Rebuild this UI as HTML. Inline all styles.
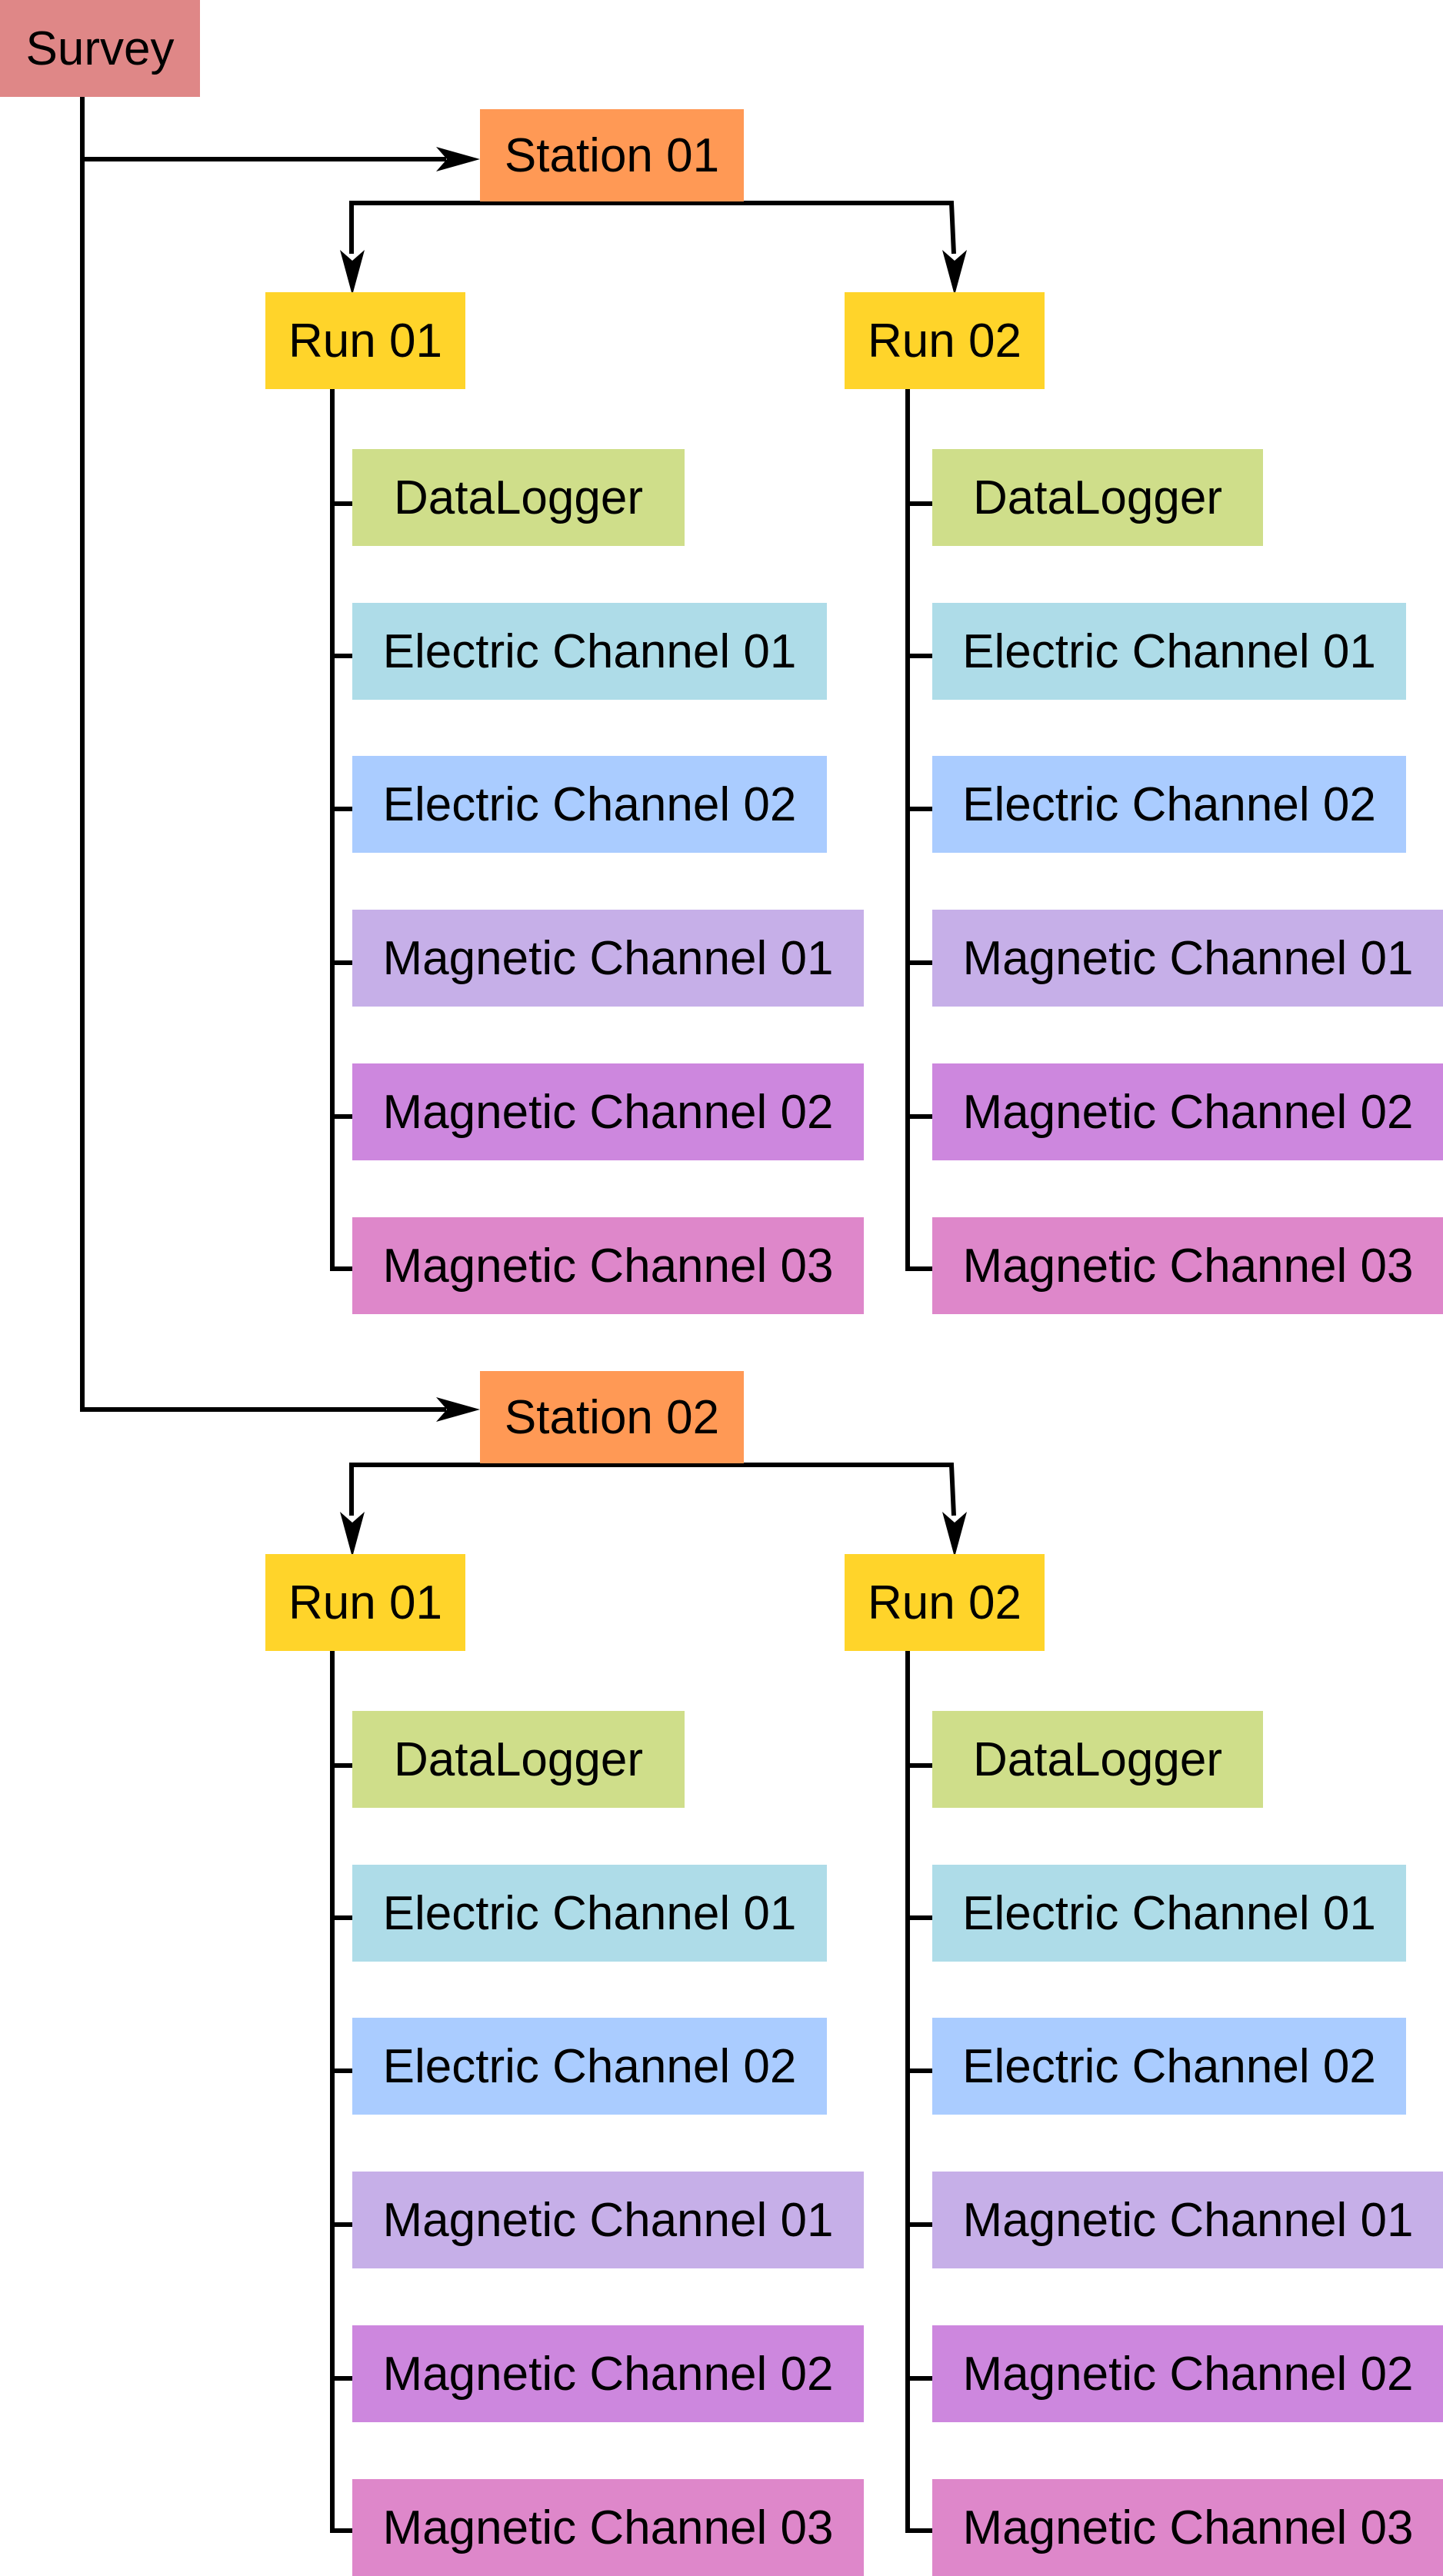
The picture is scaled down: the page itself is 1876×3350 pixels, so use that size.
<!DOCTYPE html>
<html><head><meta charset="utf-8">
<style>
html,body{margin:0;padding:0;background:#fff;}
body{width:1876px;height:3350px;position:relative;overflow:hidden;font-family:"Liberation Sans",sans-serif;}
.b{position:absolute;display:flex;align-items:center;justify-content:center;font-size:62px;color:#000;white-space:nowrap;height:126px;}
.sv{background:#DF8787}.st{background:#FF9955}.rn{background:#FFD42A}
.dl{background:#CFDE8A}.e1{background:#AEDCE8}.e2{background:#AACCFF}
.m1{background:#C6AFE8}.m2{background:#CD87DE}.m3{background:#DE87CA}
svg{position:absolute;left:0;top:0;}
</style></head><body>
<svg width="1876" height="3350" viewBox="0 0 1876 3350">
<g stroke="#000" stroke-width="6" fill="none">
<path d="M107 126 V1833 H580"/>
<path d="M107 207 H580"/>
<!-- block 1 -->
<path d="M457 330 V264 H1237 L1240 330"/>
<path d="M432 506 V1650 H460"/>
<path d="M432 655 H460 M432 853 H460 M432 1052 H460 M432 1252 H460 M432 1452 H460"/>
<path d="M1180 506 V1650 H1214"/>
<path d="M1180 655 H1214 M1180 853 H1214 M1180 1052 H1214 M1180 1252 H1214 M1180 1452 H1214"/>
<!-- block 2 -->
<path d="M457 1971 V1905 H1237 L1240 1971"/>
<path d="M432 2147 V3291 H460"/>
<path d="M432 2296 H460 M432 2494 H460 M432 2693 H460 M432 2893 H460 M432 3093 H460"/>
<path d="M1180 2147 V3291 H1214"/>
<path d="M1180 2296 H1214 M1180 2494 H1214 M1180 2693 H1214 M1180 2893 H1214 M1180 3093 H1214"/>
</g>
<g fill="#000">
<path d="M624 207 L567 191 L581 207 L567 223 Z"/>
<path d="M624 1833 L567 1817 L581 1833 L567 1849 Z"/>
<path d="M458 384 L442 325 L458 339 L474 325 Z"/>
<path d="M1241 384 L1225 325 L1241 339 L1257 325 Z"/>
<path d="M458 2025 L442 1966 L458 1980 L474 1966 Z"/>
<path d="M1241 2025 L1225 1966 L1241 1980 L1257 1966 Z"/>
</g>
</svg>

<div class="b sv" style="left:0;top:0;width:260px;">Survey</div>

<div class="b st" style="left:624px;top:142px;width:343px;height:120px;">Station 01</div>
<div class="b rn" style="left:345px;top:380px;width:260px;">Run 01</div>
<div class="b rn" style="left:1098px;top:380px;width:260px;">Run 02</div>

<div class="b dl" style="left:458px;top:584px;width:432px;">DataLogger</div>
<div class="b e1" style="left:458px;top:784px;width:617px;">Electric Channel 01</div>
<div class="b e2" style="left:458px;top:983px;width:617px;">Electric Channel 02</div>
<div class="b m1" style="left:458px;top:1183px;width:665px;">Magnetic Channel 01</div>
<div class="b m2" style="left:458px;top:1383px;width:665px;">Magnetic Channel 02</div>
<div class="b m3" style="left:458px;top:1583px;width:665px;">Magnetic Channel 03</div>

<div class="b dl" style="left:1212px;top:584px;width:430px;">DataLogger</div>
<div class="b e1" style="left:1212px;top:784px;width:616px;">Electric Channel 01</div>
<div class="b e2" style="left:1212px;top:983px;width:616px;">Electric Channel 02</div>
<div class="b m1" style="left:1212px;top:1183px;width:665px;">Magnetic Channel 01</div>
<div class="b m2" style="left:1212px;top:1383px;width:665px;">Magnetic Channel 02</div>
<div class="b m3" style="left:1212px;top:1583px;width:665px;">Magnetic Channel 03</div>

<div class="b st" style="left:624px;top:1783px;width:343px;height:120px;">Station 02</div>
<div class="b rn" style="left:345px;top:2021px;width:260px;">Run 01</div>
<div class="b rn" style="left:1098px;top:2021px;width:260px;">Run 02</div>

<div class="b dl" style="left:458px;top:2225px;width:432px;">DataLogger</div>
<div class="b e1" style="left:458px;top:2425px;width:617px;">Electric Channel 01</div>
<div class="b e2" style="left:458px;top:2624px;width:617px;">Electric Channel 02</div>
<div class="b m1" style="left:458px;top:2824px;width:665px;">Magnetic Channel 01</div>
<div class="b m2" style="left:458px;top:3024px;width:665px;">Magnetic Channel 02</div>
<div class="b m3" style="left:458px;top:3224px;width:665px;">Magnetic Channel 03</div>

<div class="b dl" style="left:1212px;top:2225px;width:430px;">DataLogger</div>
<div class="b e1" style="left:1212px;top:2425px;width:616px;">Electric Channel 01</div>
<div class="b e2" style="left:1212px;top:2624px;width:616px;">Electric Channel 02</div>
<div class="b m1" style="left:1212px;top:2824px;width:665px;">Magnetic Channel 01</div>
<div class="b m2" style="left:1212px;top:3024px;width:665px;">Magnetic Channel 02</div>
<div class="b m3" style="left:1212px;top:3224px;width:665px;">Magnetic Channel 03</div>
</body></html>
